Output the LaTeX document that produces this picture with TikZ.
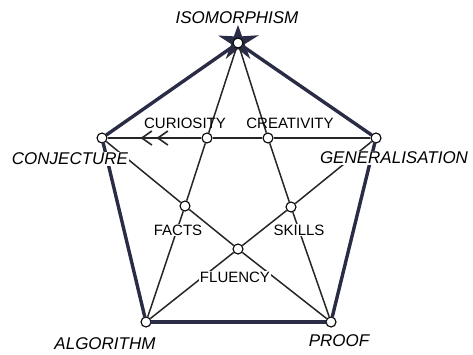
\documentclass[tikz,border=0pt]{standalone}
\usepackage{fontspec}
\setmainfont{Liberation Sans}
\usetikzlibrary{arrows.meta,decorations.markings}
\definecolor{navy}{HTML}{2A2C45}
\tikzset{barb/.tip={Straight Barb[length=10pt,width=14pt,line width=1.6pt]}}
\begin{document}
\begin{tikzpicture}[x=1pt,y=-1pt,
  dot/.style={circle,draw=black,fill=white,inner sep=0pt,minimum size=10pt,line width=1.1pt},
  outerline/.style={line width=3.4pt,draw=navy,line cap=round},
  innerline/.style={line width=1.5pt,draw=black!85},
  vlab/.style={font=\fontsize{17}{17}\selectfont\itshape,inner sep=1pt,fill=white},
  ilab/.style={font=\fontsize{15}{15}\selectfont,inner sep=1pt}]
\useasboundingbox (0,0) rectangle (473,354);
% star behind the top vertex
\begin{scope}[shift={(238,42)}]
  \fill[navy] (-90:17) -- (-54:7) -- (-18:22) -- (18:7) -- (54:21) -- (90:7) -- (126:21) -- (162:7) -- (198:21) -- (234:7) -- cycle;
\end{scope}
% vertices
\node[dot] (I)  at (238,43)  {};
\node[dot] (C)  at (102,138) {};
\node[dot] (G)  at (376,138) {};
\node[dot] (A)  at (146,322) {};
\node[dot] (P)  at (331,322) {};
\node[dot] (CU) at (207,138) {};
\node[dot] (CR) at (268,138) {};
\node[dot] (FA) at (185,206) {};
\node[dot] (SK) at (291,207) {};
\node[dot] (FL) at (238,249) {};
% outer pentagon
\draw[outerline] (I) -- (C);
\draw[outerline] (I) -- (G);
\draw[outerline] (C) -- (A);
\draw[outerline] (G) -- (P);
\draw[outerline] (A) -- (P);
% inner pentagram
\draw[innerline] (I) -- (CU);
\draw[innerline] (CU) -- (FA);
\draw[innerline] (FA) -- (A);
\draw[innerline] (I) -- (CR);
\draw[innerline] (CR) -- (SK);
\draw[innerline] (SK) -- (P);
\draw[innerline] (C) -- (FA);
\draw[innerline] (FA) -- (FL);
\draw[innerline] (FL) -- (P);
\draw[innerline] (G) -- (SK);
\draw[innerline] (SK) -- (FL);
\draw[innerline] (FL) -- (A);
\draw[innerline] (G) -- (CR);
\draw[innerline] (CR) -- (CU);
\draw[innerline,postaction={decorate,decoration={markings,
    mark=at position 45pt with {\arrow{barb}},
    mark=at position 61pt with {\arrow{barb}}}}] (CU) -- (C);
% labels
\node[vlab] (lI) at (237,18)  {ISOMORPHISM};
\node[vlab] (lC) at (70,159)  {CONJECTURE};
\node[vlab] (lG) at (394,158) {GENERALISATION};
\node[vlab] (lA) at (105,344) {ALGORITHM};
\node[vlab] (lP) at (339,341) {PROOF};
\node[ilab] (lCU) at (185,123) {CURIOSITY};
\node[ilab] (lCR) at (290,123) {CREATIVITY};
\node[ilab,fill=white] (lFA) at (178,230) {FACTS};
\node[ilab,fill=white] (lSK) at (299,230) {SKILLS};
\node[ilab,fill=white] (lFL) at (235,277) {FLUENCY};
\end{tikzpicture}
\end{document}
